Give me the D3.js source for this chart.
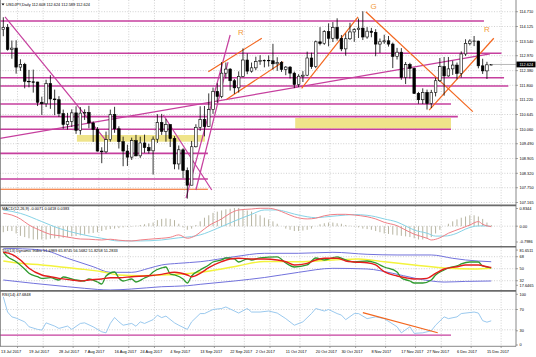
<!DOCTYPE html>
<html><head><meta charset="utf-8">
<script src="https://cdn.jsdelivr.net/npm/d3@7"></script>
<style>body{margin:0;background:#fff}svg{display:block}text{font-family:"Liberation Sans",Arial,sans-serif}</style>
</head><body><svg id="c" width="536" height="357"></svg>
<script>
// ---------- DATA ----------
const dates = ["2017-07-11","2017-07-12","2017-07-13","2017-07-14","2017-07-17","2017-07-18","2017-07-19","2017-07-20","2017-07-21","2017-07-24","2017-07-25","2017-07-26","2017-07-27","2017-07-28","2017-07-31",
"2017-08-01","2017-08-02","2017-08-03","2017-08-04","2017-08-07","2017-08-08","2017-08-09","2017-08-10","2017-08-11","2017-08-14","2017-08-15","2017-08-16","2017-08-17","2017-08-18","2017-08-21","2017-08-22","2017-08-23","2017-08-24","2017-08-25","2017-08-28","2017-08-29","2017-08-30","2017-08-31",
"2017-09-01","2017-09-04","2017-09-05","2017-09-06","2017-09-07","2017-09-08","2017-09-11","2017-09-12","2017-09-13","2017-09-14","2017-09-15","2017-09-18","2017-09-19","2017-09-20","2017-09-21","2017-09-22","2017-09-25","2017-09-26","2017-09-27","2017-09-28","2017-09-29",
"2017-10-02","2017-10-03","2017-10-04","2017-10-05","2017-10-06","2017-10-09","2017-10-10","2017-10-11","2017-10-12","2017-10-13","2017-10-16","2017-10-17","2017-10-18","2017-10-19","2017-10-20","2017-10-23","2017-10-24","2017-10-25","2017-10-26","2017-10-27","2017-10-30","2017-10-31",
"2017-11-01","2017-11-02","2017-11-03","2017-11-06","2017-11-07","2017-11-08","2017-11-09","2017-11-10","2017-11-13","2017-11-14","2017-11-15","2017-11-16","2017-11-17","2017-11-20","2017-11-21","2017-11-22","2017-11-23","2017-11-24","2017-11-27","2017-11-28","2017-11-29","2017-11-30",
"2017-12-01","2017-12-04","2017-12-05","2017-12-06","2017-12-07","2017-12-08","2017-12-11","2017-12-12","2017-12-13","2017-12-14","2017-12-15","2017-12-18"];
const open  = [114.00,114.08,113.22,113.27,112.52,112.63,111.96,111.94,111.93,111.13,111.07,111.87,111.26,111.23,110.68,110.25,110.37,110.71,110.02,110.70,110.73,110.31,110.05,109.20,109.17,109.65,110.65,110.08,109.57,109.20,108.96,109.61,109.01,109.52,109.34,109.21,109.67,110.33,109.98,110.25,109.69,108.69,109.25,108.43,107.85,109.37,110.14,110.45,110.17,110.84,111.56,111.36,112.28,112.44,111.98,111.70,112.15,112.80,112.36,112.49,112.74,112.78,112.79,112.77,112.65,112.70,112.43,112.52,112.28,111.83,112.16,112.20,112.88,112.54,113.52,113.45,113.92,113.66,114.09,113.65,113.24,113.64,113.91,114.00,114.06,113.71,113.94,113.89,113.43,113.52,113.56,113.43,112.94,113.11,112.11,112.62,112.47,111.48,111.23,111.52,111.08,111.52,111.98,112.54,112.17,112.45,112.60,112.27,113.04,113.46,113.55,113.55,112.57,112.37,112.61];
const high  = [114.49,114.22,113.57,113.58,112.83,112.69,112.41,112.42,111.94,111.35,112.02,112.20,111.63,111.37,110.84,110.71,110.85,110.97,110.94,110.85,110.99,110.37,110.15,109.35,109.97,110.84,110.95,110.18,109.77,109.45,109.73,109.84,109.77,109.85,109.49,109.78,110.66,110.67,110.47,110.25,109.79,109.42,109.31,108.55,109.60,110.26,110.97,110.98,111.48,111.71,111.88,112.72,112.70,112.48,112.05,112.35,113.26,113.06,112.70,112.93,112.99,112.82,112.98,113.44,112.91,112.76,112.56,112.56,112.34,112.24,112.36,113.13,113.09,113.57,114.10,113.98,114.25,114.30,114.45,113.79,113.85,114.27,114.06,114.44,114.73,114.10,114.07,114.02,113.65,113.80,113.75,113.49,113.28,113.27,112.72,112.69,112.50,111.54,111.68,111.63,111.62,112.10,112.88,112.92,112.92,112.77,112.70,113.14,113.62,113.62,113.75,113.56,112.85,112.73,112.62];
const low   = [113.74,113.17,112.85,112.26,112.37,111.68,111.72,111.51,110.98,110.63,110.94,110.87,110.62,110.55,110.08,110.05,110.15,109.88,109.85,110.43,110.10,109.56,109.18,108.72,109.11,109.57,109.92,109.30,108.60,108.61,108.85,108.99,108.93,109.13,109.10,108.27,109.52,109.84,109.57,109.36,108.48,108.47,108.13,107.32,107.85,109.34,110.00,109.78,110.15,110.67,111.11,111.29,112.07,111.59,111.46,111.51,112.12,112.24,112.30,112.40,112.61,112.51,112.54,112.42,112.37,112.33,112.20,112.07,111.69,111.73,111.93,112.16,112.45,112.48,113.38,113.40,113.34,113.51,113.57,113.15,112.97,113.59,113.52,113.67,113.59,113.64,113.70,112.95,113.08,113.44,113.33,112.48,112.82,112.02,111.85,112.07,111.46,111.07,111.06,110.84,110.90,111.36,111.93,111.39,112.14,112.21,112.04,112.11,112.96,113.38,113.35,112.47,112.25,112.05,112.59];
const close = [114.09,113.22,113.27,112.52,112.63,111.96,111.94,111.93,111.13,111.07,111.87,111.26,111.23,110.68,110.25,110.37,110.71,110.02,110.70,110.73,110.31,110.05,109.20,109.17,109.65,110.65,110.08,109.57,109.20,108.96,109.61,109.01,109.52,109.34,109.21,109.67,110.33,109.98,110.25,109.69,108.69,109.25,108.43,107.85,109.37,110.14,110.45,110.17,110.84,111.56,111.36,112.28,112.44,111.98,111.70,112.15,112.80,112.36,112.49,112.74,112.78,112.79,112.77,112.65,112.70,112.43,112.52,112.28,111.83,112.16,112.20,112.88,112.54,113.52,113.45,113.92,113.66,114.09,113.65,113.24,113.64,113.91,114.00,114.06,113.71,113.94,113.89,113.43,113.52,113.56,113.43,112.94,113.11,112.11,112.62,112.47,111.48,111.23,111.52,111.08,111.52,111.98,112.54,112.17,112.45,112.60,112.27,113.04,113.46,113.55,113.55,112.57,112.37,112.61,112.624];

const priceTicks = ["114.710","114.125","113.540","112.970","112.380","111.800","111.220","110.645","110.060","109.490","108.905","108.320","107.750","107.165"];
const dateTickDates  = ["2017-07-11","2017-07-19","2017-07-28","2017-08-07","2017-08-16","2017-08-24","2017-09-04","2017-09-13","2017-09-22","2017-10-02","2017-10-11","2017-10-20","2017-10-30","2017-11-08","2017-11-17","2017-11-27","2017-12-06","2017-12-15"];
const dateTickLabels = ["13 Jul 2017","19 Jul 2017","28 Jul 2017","7 Aug 2017","16 Aug 2017","24 Aug 2017","4 Sep 2017","13 Sep 2017","22 Sep 2017","2 Oct 2017","11 Oct 2017","20 Oct 2017","30 Oct 2017","8 Nov 2017","17 Nov 2017","27 Nov 2017","6 Dec 2017","15 Dec 2017"];

// MACD readings [barIndex, value]
const macdMain = [[0,0.53],[2,0.46],[4,0.30],[6,0.05],[9,-0.20],[11,-0.34],[13,-0.39],[16,-0.48],[18,-0.53],[20,-0.54],[23,-0.57],[25,-0.54],[27,-0.58],[30,-0.61],[32,-0.57],[34,-0.54],[37,-0.50],[39,-0.46],[41,-0.36],[43,-0.50],[45,-0.38],[46,-0.25],[48,0.02],[51,0.30],[53,0.53],[55,0.67],[58,0.71],[60,0.74],[62,0.74],[64,0.67],[66,0.53],[68,0.39],[71,0.30],[73,0.33],[75,0.43],[78,0.49],[80,0.49],[82,0.46],[85,0.39],[87,0.30],[89,0.16],[92,0.02],[94,-0.16],[96,-0.33],[99,-0.50],[100,-0.57],[102,-0.48],[104,-0.29],[107,-0.09],[109,0.05],[111,0.19],[112,0.08],[114,-0.02]];
const macdSignal = [[0,0.67],[4,0.53],[9,0.19],[13,-0.09],[18,-0.33],[23,-0.50],[27,-0.61],[32,-0.61],[37,-0.57],[41,-0.48],[44,-0.43],[46,-0.36],[50,-0.09],[54,0.21],[58,0.49],[61,0.67],[64,0.67],[66,0.60],[68,0.50],[71,0.39],[73,0.35],[75,0.38],[78,0.43],[80,0.46],[82,0.48],[85,0.45],[87,0.39],[89,0.30],[92,0.17],[94,0.01],[96,-0.16],[99,-0.29],[101,-0.41],[103,-0.41],[106,-0.29],[108,-0.12],[111,0.01],[113,0.01],[114,-0.02]];
const macdHist = [-0.25,-0.2,-0.2,-0.3,-0.4,-0.45,-0.5,-0.55,-0.55,-0.55,-0.55,-0.52,-0.5,-0.5,-0.48,-0.45,-0.42,-0.4,-0.38,-0.35,-0.3,-0.28,-0.25,-0.2,-0.15,-0.12,-0.1,-0.08,-0.05,-0.03,-0.02,0.02,0.05,0.08,0.12,0.15,0.25,0.3,0.32,0.3,0.25,0.1,-0.05,-0.15,-0.1,0.05,0.2,0.35,0.45,0.55,0.6,0.65,0.7,0.72,0.75,0.75,0.7,0.65,0.6,0.5,0.45,0.35,0.28,0.2,0.1,0.0,-0.1,-0.15,-0.2,-0.2,-0.18,-0.15,-0.1,0.0,0.08,0.12,0.15,0.15,0.12,0.1,0.05,0.02,-0.02,-0.05,-0.1,-0.12,-0.15,-0.2,-0.25,-0.3,-0.32,-0.35,-0.38,-0.4,-0.42,-0.45,-0.5,-0.55,-0.55,-0.5,-0.45,-0.3,-0.15,0.0,0.1,0.2,0.28,0.35,0.4,0.45,0.45,0.4,0.3,0.15,0.05];

// TDI readings [barIndex, value]
const tdiGreen = [[0,74.6],[1,68],[3,60.5],[5,49.6],[6,43.1],[8,38],[9,35.6],[11,36.5],[13,33.1],[14,37.6],[16,34.6],[17,33.1],[19,31.6],[20,34.6],[22,30.1],[23,27.1],[24,39.1],[26,45.1],[27,36.1],[28,31.6],[30,34.6],[31,30.1],[33,36.1],[34,39.1],[35,45.1],[37,51.1],[38,52.6],[39,42.1],[40,40.6],[42,34.6],[43,28.6],[44,39.1],[46,48.1],[48,55.6],[49,60.1],[51,63.1],[52,66.1],[54,64.6],[55,60.1],[57,64.6],[58,63.1],[60,66.1],[64,67.6],[66,58.6],[68,52.6],[71,55.6],[73,66.1],[75,63.1],[78,67.6],[80,63.1],[82,60.1],[85,61.6],[87,58.6],[89,52.6],[92,45.1],[93,36.1],[95,31.6],[96,28.6],[98,28.6],[100,33.1],[101,40.6],[103,48.1],[104,51.1],[106,54.1],[107,57.1],[109,60.1],[111,60.1],[112,54.1],[114,51.3]];
const tdiRed = [[0,74.6],[2,71.6],[4,63.1],[6,50.6],[9,40.6],[11,38],[13,35.6],[16,33.1],[18,31.6],[20,33.1],[23,34.6],[25,36.5],[27,36.5],[30,38],[34,39.5],[37,41.6],[40,44.6],[43,40.6],[44,38],[46,43.1],[48,51.5],[51,60.5],[53,64.6],[55,65.6],[58,64.6],[61,64.6],[64,63.1],[66,60.5],[68,55.6],[71,58.1],[73,63.1],[75,65.6],[78,65.6],[80,61.6],[82,60.1],[85,59],[87,55.6],[89,45.5],[92,39.1],[94,36.5],[96,34.6],[99,35.6],[101,43.1],[103,49.6],[106,53],[108,55.6],[111,55.6],[113,53],[114,51.8]];
const tdiYellow = [[0,61.6],[4,58.1],[9,55.6],[13,53],[18,49.6],[23,45.5],[27,40.6],[32,39.5],[37,40.6],[41,41.6],[46,44.6],[51,49.6],[55,54.5],[61,60.8],[69,60.5],[77,63.1],[83,64.6],[89,60.5],[96,55.6],[104,50.6],[110,49.6],[114,50.6]];
const tdiUpper = [[0,80.6],[9,78.1],[15,65.6],[21,53],[25,44.6],[30,44.6],[34,50.6],[37,55.6],[41,58.1],[46,60.5],[54,68],[61,73.1],[69,73.1],[77,74.6],[85,71.6],[92,70.6],[100,70.6],[105,65.6],[108,63.1],[114,60.5]];
const tdiLower = [[0,33.1],[7,28.1],[15,23],[19,20.6],[25,18.1],[30,19.6],[37,23],[43,24.5],[46,26.6],[54,31.6],[61,36.8],[69,44.6],[77,50.6],[85,49.6],[91,43.1],[96,36],[100,31.6],[103,30],[108,31],[114,31.6]];

// RSI readings [barIndex, value]
const rsiLine = [[0,95],[1,65],[2,55.5],[3,53],[5,45.7],[6,36],[8,30.8],[9,29.4],[10,43.7],[12,37.3],[13,32.7],[15,37.3],[16,30.8],[18,42.5],[19,43.7],[21,35.9],[23,26],[24,24],[25,42.5],[26,54.3],[27,45.7],[28,39],[30,42.5],[31,37],[32,45.7],[33,42.5],[35,50],[36,58.8],[37,54],[38,57],[40,43.7],[41,39],[43,30.8],[44,45.7],[46,62],[47,62],[49,70],[51,72],[52,75],[54,67],[55,63],[57,72],[58,65],[60,65],[62,67],[64,63],[66,52],[68,39],[70,45.7],[72,62],[73,72],[75,67],[76,70],[78,62],[79,59],[80,50],[82,62],[83,62],[85,52],[87,55.5],[89,52],[92,36],[93,24],[95,36],[96,23],[98,24],[100,28],[101,39],[103,55.5],[104,52],[106,55.5],[107,62],[110,65],[111,63],[112,48],[113,45],[114,47.7]];

// Drawn objects (bar index / price units)
const hLevelPrice = [114.342,113.065,112.10,111.77,111.06,110.56,110.06,109.11,108.095];
const hLevelEnd   = [112.3,116.4,117,118,104.6,106.2,104.6,47.8,47.8];
const orangeLevelPrice = [107.69];
const orangeLevelEnd = [47.8];
const zoneFrom = [[68.2,110.507],[17.2,109.835]];
const zoneTo   = [[104.6,110.09],[47.1,109.57]];
const magentaFrom = [[0.4,114.51],[37.4,110.625],[42.7,107.34],[45,107.66],[-0.77,109.70]];
const magentaTo   = [[24.2,109.57],[48.7,107.66],[53.0,113.79],[52.5,112.72],[113.7,113.04]];
const orangeFrom = [[47.9,112.34],[52.2,111.25],[69.7,111.68],[84.7,114.71],[99.5,110.82]];
const orangeTo   = [[60.4,113.66],[65.4,112.73],[82.9,114.51],[109.7,110.76],[114.6,113.66]];
const markText = ["R","G","R"];
const markPos  = [[55.5,113.80],[86.5,114.80],[113,113.92]];
const rsiTrendFrom = [84,64], rsiTrendTo = [101.5,24.1];
const rsiLevel = 19.6, rsiLevelEnd = 104.6;

// ---------- DRAW ----------
const svg = d3.select("#c");
const N = dates.length, R = 516;
const xb = d3.scaleBand().domain(d3.range(N)).range([1.16, 1.16 + N*4.28]);
const xi = d3.scaleLinear().domain([0, N-1]).range([xb(0)+xb.bandwidth()/2, xb(N-1)+xb.bandwidth()/2]);
const yP = d3.scaleLinear().domain([107.067,115.173]).range([205,0]);
const yM = d3.scaleLinear().domain([-0.7986,0.8344]).range([245.5,206]);
const yT = d3.scaleLinear().domain([17.6465,81.6511]).range([290.3,247.6]);
const yR = d3.scaleLinear().domain([0,100]).range([345,294.3]);
const FS = 3.9;
const MAG = "#c63f9e", ORG = "#f3661e", GRID = "#bdbdbd";

const defs = svg.append("defs");
function clip(id, y0, y1){ defs.append("clipPath").attr("id",id).append("rect").attr("x",0).attr("y",y0).attr("width",R).attr("height",y1-y0); return `url(#${id})`; }
const cMain = clip("cm",0,205), cMacd = clip("cd",206,246), cTdi = clip("ct",247.3,290.5), cRsi = clip("cr",291.5,346);

// vertical grid
const tickIdx = dateTickDates.map(d => dates.indexOf(d));
const gx = tickIdx.map(i => xi(i) + 14.2);
[[0,205],[206,246],[247.5,290.5],[291.5,346]].forEach(([a,b])=>{
  svg.append("g").selectAll("line").data(gx).join("line")
    .attr("x1",d=>d).attr("x2",d=>d).attr("y1",a).attr("y2",b)
    .attr("stroke",GRID).attr("stroke-width",0.7).attr("stroke-dasharray","1,1.6");
});
// main horizontal grid
svg.append("g").selectAll("line").data(priceTicks).join("line")
  .attr("x1",0).attr("x2",R).attr("y1",d=>yP(+d)).attr("y2",d=>yP(+d))
  .attr("stroke",GRID).attr("stroke-width",0.7).attr("stroke-dasharray","1,1.6");
function lvl(vals, sc){ svg.append("g").selectAll("line").data(vals).join("line")
  .attr("x1",0).attr("x2",R).attr("y1",d=>sc(d)).attr("y2",d=>sc(d))
  .attr("stroke",GRID).attr("stroke-width",0.7).attr("stroke-dasharray","1,1.6"); }
lvl([0], yM); lvl([68,50,32], yT); lvl([70,30], yR);

// zones
const gMain = svg.append("g").attr("clip-path",cMain);
gMain.selectAll("rect.z").data(zoneFrom).join("rect").attr("class","z")
  .attr("x",(d)=>xi(d[0])).attr("y",(d,i)=>yP(d[1]))
  .attr("width",(d,i)=>xi(zoneTo[i][0])-xi(d[0])).attr("height",(d,i)=>yP(zoneTo[i][1])-yP(d[1]))
  .attr("fill","#efe48a");
gMain.selectAll("line.h").data(hLevelPrice).join("line").attr("class","h")
  .attr("x1",0).attr("x2",(d,i)=>xi(hLevelEnd[i])).attr("y1",d=>yP(d)).attr("y2",d=>yP(d))
  .attr("stroke",MAG).attr("stroke-width",1.6);
gMain.selectAll("line.ho").data(orangeLevelPrice).join("line").attr("class","ho")
  .attr("x1",0).attr("x2",(d,i)=>xi(orangeLevelEnd[i])).attr("y1",d=>yP(d)).attr("y2",d=>yP(d))
  .attr("stroke",ORG).attr("stroke-width",1.2);
gMain.selectAll("line.tm").data(magentaFrom).join("line").attr("class","tm")
  .attr("x1",d=>xi(d[0])).attr("y1",d=>yP(d[1])).attr("x2",(d,i)=>xi(magentaTo[i][0])).attr("y2",(d,i)=>yP(magentaTo[i][1]))
  .attr("stroke",MAG).attr("stroke-width",1.2);
gMain.selectAll("line.to").data(orangeFrom).join("line").attr("class","to")
  .attr("x1",d=>xi(d[0])).attr("y1",d=>yP(d[1])).attr("x2",(d,i)=>xi(orangeTo[i][0])).attr("y2",(d,i)=>yP(orangeTo[i][1]))
  .attr("stroke",ORG).attr("stroke-width",1.2);

// candles
const cg = gMain.append("g");
const idx = d3.range(N);
cg.selectAll("line.w").data(idx).join("line").attr("class","w")
  .attr("x1",i=>xi(i)).attr("x2",i=>xi(i)).attr("y1",i=>yP(high[i])).attr("y2",i=>yP(low[i]))
  .attr("stroke","#000").attr("stroke-width",0.8);
cg.selectAll("rect.b").data(idx).join("rect").attr("class","b")
  .attr("x",i=>xi(i)-1.3).attr("width",2.6)
  .attr("y",i=>yP(Math.max(open[i],close[i])))
  .attr("height",i=>Math.max(0.6, Math.abs(yP(open[i])-yP(close[i]))))
  .attr("fill",i=>close[i]>=open[i]?"#fff":"#000").attr("stroke","#000").attr("stroke-width",0.6);

gMain.selectAll("text.m").data(markText).join("text").attr("class","m")
  .attr("x",(d,i)=>xi(markPos[i][0])).attr("y",(d,i)=>yP(markPos[i][1]))
  .attr("fill","#f29a3a").attr("font-size",8).attr("text-anchor","middle").text(d=>d);

const last = close[N-1];
svg.append("line").attr("x1",xi(N-1)).attr("x2",R).attr("y1",yP(last)).attr("y2",yP(last)).attr("stroke","#9a9a9a").attr("stroke-width",0.7);

// MACD
const gM = svg.append("g").attr("clip-path",cMacd);
gM.selectAll("line").data(macdHist).join("line")
  .attr("x1",(d,i)=>xi(i)).attr("x2",(d,i)=>xi(i)).attr("y1",yM(0)).attr("y2",d=>yM(d))
  .attr("stroke","#a5a189").attr("stroke-width",0.8);
const lineOf = (sc)=>d3.line().x(d=>xi(d[0])).y(d=>sc(d[1])).curve(d3.curveMonotoneX);
gM.append("path").attr("d",lineOf(yM)(macdSignal)).attr("fill","none").attr("stroke","#86d3e6").attr("stroke-width",1);
gM.append("path").attr("d",lineOf(yM)(macdMain)).attr("fill","none").attr("stroke","#f07f86").attr("stroke-width",1);

// TDI
const gT = svg.append("g").attr("clip-path",cTdi);
[[tdiUpper,"#7272dc",1],[tdiLower,"#7272dc",1],[tdiYellow,"#f3f33c",1.4],[tdiGreen,"#2f9a2f",1.3],[tdiRed,"#e41d1d",1.4]].forEach(([s,c,w])=>{
  gT.append("path").attr("d",lineOf(yT)(s)).attr("fill","none").attr("stroke",c).attr("stroke-width",w);
});

// RSI
const gR = svg.append("g").attr("clip-path",cRsi);
gR.append("line").attr("x1",0).attr("x2",xi(rsiLevelEnd)).attr("y1",yR(rsiLevel)).attr("y2",yR(rsiLevel)).attr("stroke",MAG).attr("stroke-width",1.3);
gR.append("path").attr("d",d3.line().x(d=>xi(d[0])).y(d=>yR(d[1]))(rsiLine)).attr("fill","none").attr("stroke","#8fc3ec").attr("stroke-width",0.9);
gR.append("line").attr("x1",xi(rsiTrendFrom[0])).attr("y1",yR(rsiTrendFrom[1])).attr("x2",xi(rsiTrendTo[0])).attr("y2",yR(rsiTrendTo[1])).attr("stroke",ORG).attr("stroke-width",1.2);

// frames
const frame = svg.append("g");
[205.4,246.8,290.9].forEach(y=>frame.append("line").attr("x1",0).attr("x2",R).attr("y1",y).attr("y2",y).attr("stroke","#6b6b6b").attr("stroke-width",1.6));
frame.append("line").attr("x1",0).attr("x2",R).attr("y1",346.3).attr("y2",346.3).attr("stroke","#6b6b6b").attr("stroke-width",0.8);
frame.append("line").attr("x1",R).attr("x2",R).attr("y1",0).attr("y2",346.3).attr("stroke","#6b6b6b").attr("stroke-width",0.8);
frame.append("line").attr("x1",0.4).attr("x2",0.4).attr("y1",0).attr("y2",346.3).attr("stroke","#6b6b6b").attr("stroke-width",0.8);

// right axis labels
const ax = svg.append("g").attr("font-size",FS).attr("fill","#000");
function axisLabels(vals, pos){
  vals.forEach((v,i)=>{
    const y = pos[i];
    ax.append("line").attr("x1",R).attr("x2",R+2).attr("y1",y).attr("y2",y).attr("stroke","#6b6b6b").attr("stroke-width",0.6);
    ax.append("text").attr("x",R+3.5).attr("y",y+1.4).text(v);
  });
}
axisLabels(priceTicks, priceTicks.map(d=>yP(+d)));
axisLabels(["0.8344","0.00","-0.7986"], [yM(0.8344)+2.5, yM(0), yM(-0.7986)-3.5]);
axisLabels(["81.6511","68","50","32","17.6465"], [yT(81.6511)+2.5, yT(68), yT(50), yT(32), yT(17.6465)-5]);
axisLabels(["100","70","30","0"], [yR(100), yR(70), yR(30)+1, yR(0)]);
svg.append("rect").attr("x",R+0.5).attr("y",yP(last)-2.9).attr("width",19).attr("height",5.8).attr("fill","#000");
svg.append("text").attr("x",R+3.5).attr("y",yP(last)+1.4).attr("font-size",FS).attr("fill","#fff").text(last.toFixed(3));

// date labels
const dl = svg.append("g").attr("font-size",FS).attr("fill","#000");
dateTickLabels.forEach((t,k)=>{
  const x0 = k===0 ? 1 : xi(tickIdx[k]);
  dl.append("line").attr("x1",gx[k]).attr("x2",gx[k]).attr("y1",346.3).attr("y2",348).attr("stroke","#6b6b6b").attr("stroke-width",0.6);
  dl.append("text").attr("x",x0).attr("y",352.5).text(t);
});

// titles
svg.append("path").attr("d","M1.5,3.4 L4.5,3.4 L3,5.4 Z").attr("fill","#000");
svg.append("text").attr("x",6).attr("y",5.8).attr("font-size",FS).text("USDJPY,Daily  112.608 112.624 112.589 112.624");
svg.append("text").attr("x",2).attr("y",210.3).attr("font-size",FS).text("MACD(12,26,9) -0.0071 0.0418 0.0383");
svg.append("text").attr("x",2).attr("y",251.6).attr("font-size",FS).text("TDI(13) Dynamic Index 51.6989 65.8745 56.5682 51.8258 51.2833");
svg.append("text").attr("x",2).attr("y",296.2).attr("font-size",FS).text("RSI(14) 47.6848");
</script></body></html>
